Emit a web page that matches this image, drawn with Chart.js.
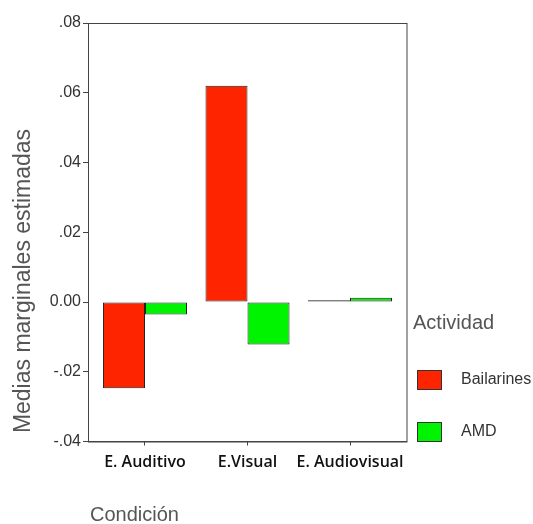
<!DOCTYPE html>
<html>
<head>
<meta charset="utf-8">
<script src="https://cdn.jsdelivr.net/npm/chart.js@4"></script>
<style>
  html, body { margin: 0; padding: 0; background: #fff; }
  canvas { display: block; }
</style>
</head>
<body>
<canvas id="chart" width="533" height="524"></canvas>
<script>
const categories = ['E. Auditivo', 'E.Visual', 'E. Audiovisual'];
const bailarines = [-0.0247, 0.0620, 0.0005];
const amd = [-0.0036, -0.0122, 0.0012];
const yTicks = [-0.04, -0.02, 0, 0.02, 0.04, 0.06, 0.08];

const RED = '#ff2400';
const GREEN = '#00f400';

function toPoints(values) {
  return values.map((v, i) => ({ x: i, y: v }));
}

function fmtTick(v) {
  if (Math.abs(v) < 1e-9) return '0.00';
  return v.toFixed(2).replace('0.', '.');
}

// frame, axis titles and legend drawn by hand like the SPSS output
const decorations = {
  id: 'decorations',
  afterDraw(chart) {
    const ctx = chart.ctx;
    const a = chart.chartArea;
    ctx.save();
    ctx.strokeStyle = '#444';
    ctx.lineWidth = 1;
    ctx.strokeRect(a.left + 0.5, a.top + 0.5, a.right - a.left, a.bottom - a.top);

    // y title
    ctx.fillStyle = '#555';
    ctx.font = '23px "Liberation Sans", Arial, sans-serif';
    ctx.textAlign = 'center';
    ctx.textBaseline = 'middle';
    ctx.translate(24, 281);
    ctx.rotate(-Math.PI / 2);
    ctx.fillText('Medias marginales estimadas', 0, 0);
    ctx.restore();

    ctx.save();
    ctx.fillStyle = '#555';
    ctx.font = '20px "Liberation Sans", Arial, sans-serif';
    ctx.textAlign = 'left';
    ctx.textBaseline = 'middle';
    ctx.fillText('Condición', 90, 515);
    ctx.fillText('Actividad', 413, 323);

    // legend
    const items = [
      { label: 'Bailarines', color: RED, y: 370 },
      { label: 'AMD', color: GREEN, y: 422 }
    ];
    ctx.font = '16px "Liberation Sans", Arial, sans-serif';
    items.forEach(it => {
      ctx.fillStyle = it.color;
      ctx.fillRect(417, it.y, 24, 19);
      ctx.strokeStyle = '#333';
      ctx.strokeRect(417.5, it.y + 0.5, 24, 19);
      ctx.fillStyle = '#333';
      ctx.fillText(it.label, 461, it.y + 10);
    });
    ctx.restore();
  }
};

const ctx = document.getElementById('chart').getContext('2d');
const chart = new Chart(ctx, {
  type: 'bar',
  data: {
    datasets: [
      {
        label: 'Bailarines',
        data: toPoints(bailarines),
        backgroundColor: RED,
        borderColor: '#222',
        borderWidth: 1,
        borderSkipped: false
      },
      {
        label: 'AMD',
        data: toPoints(amd),
        backgroundColor: GREEN,
        borderColor: '#222',
        borderWidth: 1,
        borderSkipped: false
      }
    ]
  },
  options: {
    responsive: false,
    animation: false,
    devicePixelRatio: 1,
    categoryPercentage: 0.82,
    barPercentage: 1,
    layout: { padding: { top: 23, right: 126.5, left: 0, bottom: 0 } },
    plugins: {
      legend: { display: false },
      tooltip: { enabled: false }
    },
    scales: {
      x: {
        type: 'linear',
        offset: false,
        min: -0.556,
        max: 2.551,
        afterBuildTicks: scale => {
          scale.ticks = categories.map((c, i) => ({ value: i }));
        },
        afterFit: scale => { scale.height = 82.5; },
        grid: { display: true, drawOnChartArea: false, drawTicks: true, tickLength: 4, color: '#444', offset: false },
        border: { display: true, color: '#444' },
        ticks: {
          color: '#111',
          padding: 7,
          maxRotation: 0,
          autoSkip: false,
          font: { family: '"Open Sans", sans-serif', size: 16, weight: '600' },
          callback: v => categories[v]
        }
      },
      y: {
        min: -0.04,
        max: 0.08,
        afterBuildTicks: scale => {
          scale.ticks = yTicks.map(v => ({ value: v }));
        },
        afterFit: scale => { scale.width = 88; },
        grid: { display: true, drawOnChartArea: false, drawTicks: true, tickLength: 5, color: '#444' },
        border: { display: true, color: '#444' },
        ticks: {
          color: '#333',
          padding: 2,
          font: { family: '"Liberation Sans", Arial, sans-serif', size: 16 },
          callback: v => fmtTick(v)
        }
      }
    }
  },
  plugins: [decorations]
});
</script>
</body>
</html>
